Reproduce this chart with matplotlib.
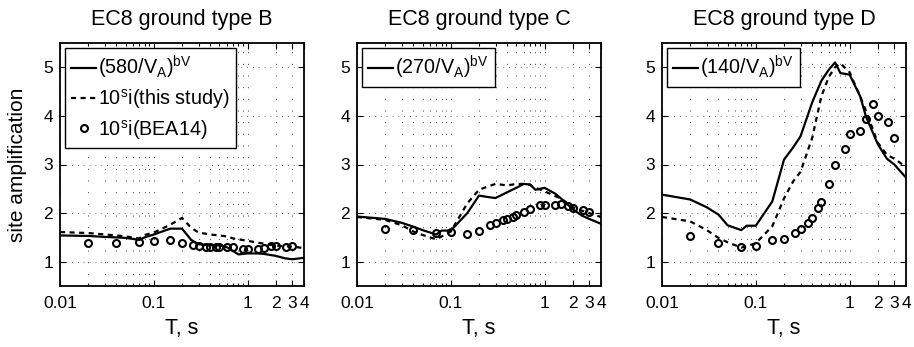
import numpy as np
import matplotlib
matplotlib.use("Agg")
import matplotlib.pyplot as plt
from matplotlib.ticker import FixedLocator, NullFormatter

plt.rcParams['font.family'] = ['Liberation Sans', 'DejaVu Sans']
plt.rcParams['mathtext.default'] = 'regular'
plt.rcParams['font.size'] = 12.5

# periods of the curves
T_line = [0.01, 0.02, 0.03, 0.04, 0.05, 0.07, 0.08, 0.1, 0.15, 0.2, 0.25, 0.3,
          0.4, 0.5, 0.6, 0.7, 0.8, 1.0, 1.3, 1.5, 2.0, 2.5, 3.0, 4.0]
# periods of BEA14 coefficients
T_bea = [0.02, 0.04, 0.07, 0.1, 0.15, 0.2, 0.26, 0.3, 0.36, 0.4, 0.46, 0.5,
         0.6, 0.7, 0.9, 1.0, 1.3, 1.5, 1.8, 2.0, 2.6, 3.0]

# ground type B
B_vs = [1.54, 1.53, 1.51, 1.50, 1.49, 1.45, 1.50, 1.56, 1.68, 1.68, 1.45, 1.36,
        1.34, 1.34, 1.30, 1.22, 1.15, 1.17, 1.17, 1.16, 1.12, 1.07, 1.05, 1.08]
B_si = [1.61, 1.59, 1.56, 1.54, 1.52, 1.48, 1.55, 1.60, 1.76, 1.90, 1.70, 1.60,
        1.56, 1.54, 1.52, 1.48, 1.46, 1.43, 1.39, 1.37, 1.33, 1.32, 1.31, 1.28]
B_bea = [1.38, 1.38, 1.40, 1.43, 1.45, 1.38, 1.35, 1.32, 1.31, 1.31, 1.31, 1.31,
         1.31, 1.30, 1.26, 1.26, 1.26, 1.28, 1.32, 1.33, 1.31, 1.33]

# ground type C
C_vs = [1.93, 1.88, 1.80, 1.72, 1.65, 1.56, 1.64, 1.64, 2.00, 2.36, 2.33, 2.31,
        2.43, 2.52, 2.60, 2.59, 2.48, 2.52, 2.40, 2.30, 2.08, 1.95, 1.88, 1.78]
C_si = [1.92, 1.86, 1.75, 1.62, 1.55, 1.46, 1.52, 1.62, 2.20, 2.48, 2.55, 2.60,
        2.57, 2.60, 2.60, 2.58, 2.52, 2.45, 2.35, 2.30, 2.12, 2.05, 2.00, 1.92]
C_bea = [1.67, 1.66, 1.60, 1.61, 1.57, 1.64, 1.76, 1.80, 1.85, 1.88, 1.91, 1.97,
         2.02, 2.09, 2.16, 2.16, 2.16, 2.18, 2.14, 2.10, 2.07, 2.03]

# ground type D
D_vs = [2.38, 2.28, 2.12, 1.97, 1.75, 1.65, 1.74, 1.74, 2.24, 3.10, 3.35, 3.58,
        4.28, 4.72, 4.95, 5.10, 4.88, 4.85, 4.40, 3.98, 3.42, 3.12, 3.00, 2.73]
D_si = [1.92, 1.83, 1.65, 1.49, 1.40, 1.29, 1.32, 1.38, 1.73, 2.30, 2.65, 2.85,
        3.55, 4.40, 4.80, 5.00, 5.08, 4.90, 4.40, 4.10, 3.45, 3.20, 3.12, 2.95]
D_bea = [1.52, 1.39, 1.30, 1.33, 1.44, 1.47, 1.60, 1.68, 1.80, 1.89, 2.11, 2.22,
         2.59, 3.00, 3.31, 3.62, 3.69, 3.93, 4.24, 4.00, 3.87, 3.54]

titles = ['EC8 ground type B', 'EC8 ground type C', 'EC8 ground type D']
vref = ['580', '270', '140']
panels = [(B_vs, B_si, B_bea), (C_vs, C_si, C_bea), (D_vs, D_si, D_bea)]
xticks = [0.01, 0.1, 1, 2, 3, 4]
xticklabels = ['0.01', '0.1', '1', '2', '3', '4']

fig = plt.figure(figsize=(9.14, 3.47), dpi=100)
lefts = [60, 357, 662]

for k in range(3):
    ax = fig.add_axes([lefts[k] / 914, 61 / 347, 244 / 914, 243 / 347])
    vs, si, bea = panels[k]
    h1, = ax.plot(T_line, vs, '-', color='k', lw=1.6,
                  label='(%s/V$_A$)$^{bV}$' % vref[k])
    h2, = ax.plot(T_line, si, '--', color='k', lw=1.6, dashes=(2.3, 2),
                  label='10$^{s}$i(this study)')
    h3, = ax.plot(T_bea, bea, 'o', mfc='none', mec='k', mew=1.5, ms=5,
                  label='10$^{s}$i(BEA14)')
    ax.set_xscale('log')
    ax.set_xlim(0.01, 4)
    ax.set_ylim(0.5, 5.5)
    ax.xaxis.set_major_locator(FixedLocator(xticks))
    ax.set_xticklabels(xticklabels)
    minors = [m * 10.0 ** e for e in (-2, -1) for m in range(2, 10)]
    ax.xaxis.set_minor_locator(FixedLocator(minors))
    ax.xaxis.set_minor_formatter(NullFormatter())
    ax.set_yticks([1, 2, 3, 4, 5])
    ax.tick_params(which='both', direction='in', top=True, right=True,
                   width=0.8, colors='k', labelsize=12.5)
    ax.tick_params(which='major', length=4)
    ax.tick_params(which='minor', length=2.5)
    ax.tick_params(axis='x', pad=7)
    ax.tick_params(axis='y', pad=5)
    ax.grid(True, which='major', axis='y', color='0.25', lw=0.6,
            ls=(0, (1, 6)))
    ax.grid(True, which='both', axis='x', color='0.25', lw=0.7,
            ls=(0, (1, 11)))
    ax.set_axisbelow(True)
    for s in ax.spines.values():
        s.set_linewidth(1.3)
    ax.set_title(titles[k], pad=13, fontsize=15.5)
    ax.set_xlabel('T, s', labelpad=5, fontsize=15.5)
    if k == 0:
        ax.set_ylabel('site amplification', labelpad=12, fontsize=15)
        hs = [h1, h2, h3]
    else:
        hs = [h1]
    leg = ax.legend(handles=hs, loc='upper left', fancybox=False,
                    edgecolor='k', framealpha=1, handlelength=1.3,
                    handletextpad=0.1, borderpad=0.3, labelspacing=0.32,
                    borderaxespad=0.25, fontsize=14.2)
    leg.get_frame().set_linewidth(1.0)

fig.savefig('out.png', dpi=100)
